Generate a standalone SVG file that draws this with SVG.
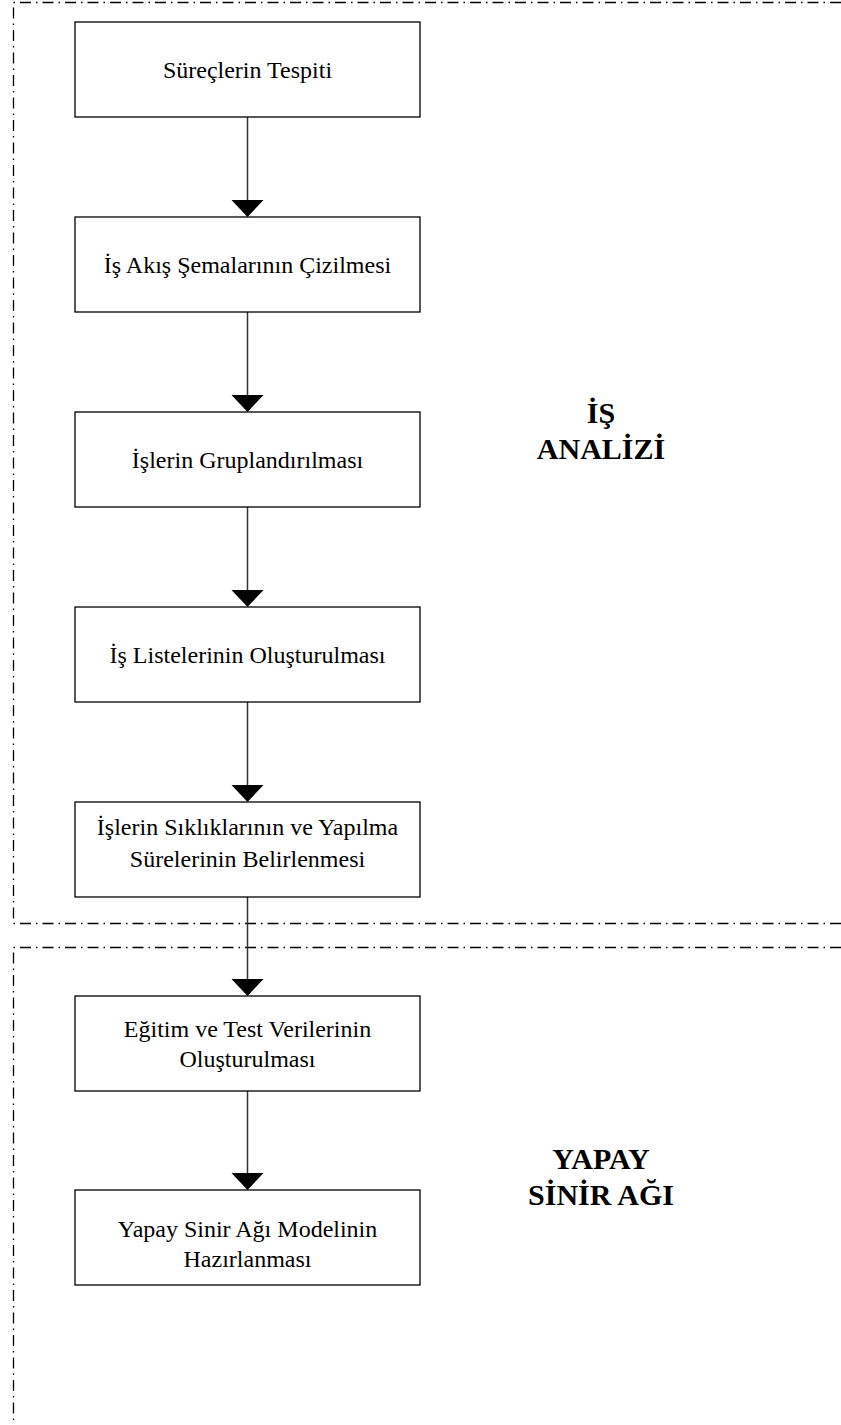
<svg xmlns="http://www.w3.org/2000/svg" width="841" height="1425" viewBox="0 0 841 1425">
<style>
.box{fill:#fff;stroke:#000;stroke-width:1.3}
.t{font-family:"Liberation Serif","Times New Roman",serif;font-size:24px;text-anchor:middle;fill:#000}
.lbl{font-family:"Liberation Serif","Times New Roman",serif;font-size:30px;font-weight:bold;text-anchor:middle;fill:#000}
.dd{fill:none;stroke:#000;stroke-width:1.3;stroke-dasharray:11 5 1.5 5}
.ln{stroke:#333;stroke-width:1.5;fill:none}
.ah{fill:#000}
</style>
<g id="regions">
<path class="dd" d="M841 2.5 H13.5 V923.5 H841"/>
<path class="dd" d="M841 947.5 H13.5 V1425"/>
</g>
<g id="connectors">
<line class="ln" x1="247.5" y1="117" x2="247.5" y2="202"/>
<polygon class="ah" points="231.5,200 263.5,200 247.5,217"/>
<line class="ln" x1="247.5" y1="312" x2="247.5" y2="397"/>
<polygon class="ah" points="231.5,395 263.5,395 247.5,412"/>
<line class="ln" x1="247.5" y1="507" x2="247.5" y2="592"/>
<polygon class="ah" points="231.5,590 263.5,590 247.5,607"/>
<line class="ln" x1="247.5" y1="702" x2="247.5" y2="787"/>
<polygon class="ah" points="231.5,785 263.5,785 247.5,802"/>
<line class="ln" x1="247.5" y1="897" x2="247.5" y2="981"/>
<polygon class="ah" points="231.5,979 263.5,979 247.5,996"/>
<line class="ln" x1="247.5" y1="1091" x2="247.5" y2="1175"/>
<polygon class="ah" points="231.5,1173 263.5,1173 247.5,1190"/>
</g>
<g id="n1"><rect class="box" x="75" y="22" width="345" height="95"/><text class="t" x="247.5" y="78">Süreçlerin Tespiti</text></g>
<g id="n2"><rect class="box" x="75" y="217" width="345" height="95"/><text class="t" x="247.5" y="273">İş Akış Şemalarının Çizilmesi</text></g>
<g id="n3"><rect class="box" x="75" y="412" width="345" height="95"/><text class="t" x="247.5" y="468">İşlerin Gruplandırılması</text></g>
<g id="n4"><rect class="box" x="75" y="607" width="345" height="95"/><text class="t" x="247.5" y="663">İş Listelerinin Oluşturulması</text></g>
<g id="n5"><rect class="box" x="75" y="802" width="345" height="95"/><text class="t" x="247.5" y="835">İşlerin Sıklıklarının ve Yapılma</text><text class="t" x="247.5" y="867">Sürelerinin Belirlenmesi</text></g>
<g id="n6"><rect class="box" x="75" y="996" width="345" height="95"/><text class="t" x="247.5" y="1037">Eğitim ve Test Verilerinin</text><text class="t" x="247.5" y="1067">Oluşturulması</text></g>
<g id="n7"><rect class="box" x="75" y="1190" width="345" height="95"/><text class="t" x="247.5" y="1237">Yapay Sinir Ağı Modelinin</text><text class="t" x="247.5" y="1267">Hazırlanması</text></g>
<g id="label-is"><text class="lbl" x="601" y="423">İŞ</text><text class="lbl" x="601" y="459">ANALİZİ</text></g>
<g id="label-ysa"><text class="lbl" x="601" y="1169">YAPAY</text><text class="lbl" x="601" y="1205">SİNİR AĞI</text></g>
</svg>
